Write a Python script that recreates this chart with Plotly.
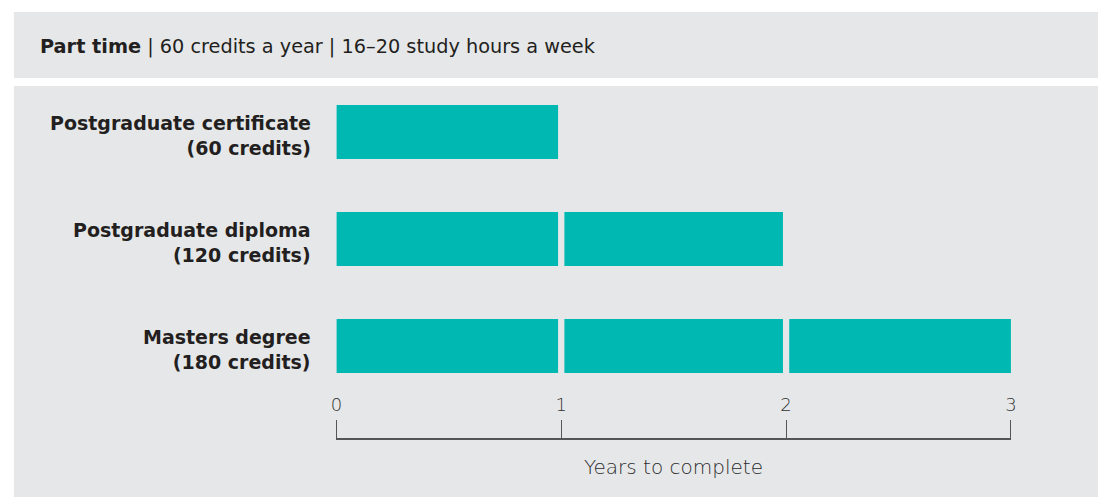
import plotly.graph_objects as go

# Data
programmes = ["Postgraduate certificate<br>(60 credits)",
              "Postgraduate diploma<br>(120 credits)",
              "Masters degree<br>(180 credits)"]
years_to_complete = [1, 2, 3]
x_ticks = [0, 1, 2, 3]
header_bold = "Part time"
header_rest = " | 60 credits a year | 16–20 study hours a week"
x_title = "Years to complete"

W, H = 1104, 497
TEAL = "#00B8B2"
GRAY = "#E6E7E9"
TEXT = "#231F20"
FONT = "DejaVu Sans, sans-serif"

max_years = max(years_to_complete)
gap = 0.014

fig = go.Figure()
for k in range(max_years):
    ys, bases, widths = [], [], []
    for p, n in zip(programmes, years_to_complete):
        if k < n:
            start = k + (gap if k > 0 else 0)
            end = k + 1 - (gap if k + 1 < max_years else 0)
            ys.append(p)
            bases.append(start)
            widths.append(end - start)
    fig.add_trace(go.Bar(y=ys, x=widths, base=bases, orientation="h",
                         marker=dict(color=TEAL, line=dict(width=0)),
                         width=0.505, showlegend=False, hoverinfo="skip"))

def py(px):
    return (H - px) / H

label_annotations = [
    dict(text=f"<b>{p}</b>", xref="paper", yref="y", x=310 / W, y=p,
         xanchor="right", yanchor="middle", align="right", showarrow=False,
         yshift=-3, font=dict(size=19, color=TEXT))
    for p in programmes
]

fig.update_layout(
    autosize=True,
    margin=dict(l=0, r=0, t=0, b=0),
    paper_bgcolor="white", plot_bgcolor="rgba(0,0,0,0)",
    barmode="overlay",
    font=dict(family=FONT, color=TEXT),
    xaxis=dict(domain=[334 / W, 1016 / W], range=[0, 3], side="top",
               anchor="free", position=py(439),
               tickvals=x_ticks, ticktext=[str(t) for t in x_ticks],
               ticks="outside", ticklen=18, tickwidth=1.3, tickcolor="#555",
               showline=True, linecolor="#555", linewidth=2,
               showgrid=False, zeroline=False, ticklabelstandoff=2,
               tickfont=dict(size=18, color="#333", weight=300)),
    yaxis=dict(domain=[py(399.5), py(78.5)], range=[2.5, -0.5],
               categoryorder="array", categoryarray=programmes,
               showgrid=False, zeroline=False, showline=False, ticks="",
               showticklabels=False),
    shapes=[
        dict(type="rect", xref="paper", yref="paper", x0=8 / W, x1=1, y0=py(78), y1=py(12),
             fillcolor=GRAY, line=dict(width=0), layer="below"),
        dict(type="rect", xref="paper", yref="paper", x0=8 / W, x1=1, y0=0, y1=py(86),
             fillcolor=GRAY, line=dict(width=0), layer="below"),
    ],
    annotations=[
        dict(text=f"<b>{header_bold}</b>{header_rest}", xref="paper", yref="paper",
             x=32 / W, y=py(47), xanchor="left", yanchor="middle", showarrow=False,
             font=dict(size=19.3, color=TEXT)),
        dict(text=x_title, xref="x", yref="paper", x=1.5, y=py(467),
             xanchor="center", yanchor="middle", showarrow=False,
             font=dict(size=20, color="#2b2b2b", weight=300)),
    ] + label_annotations,
)

post = """
document.documentElement.style.margin='0';
document.documentElement.style.padding='0';
document.documentElement.style.overflow='hidden';
document.body.style.margin='0';
document.body.style.padding='0';
document.body.style.overflow='hidden';
var gd=document.getElementById('{plot_id}');
if(gd){gd.style.width='100vw';gd.style.height='100vh';Plotly.Plots.resize(gd);}
"""
fig.write_html("out.html", config={"displayModeBar": False, "responsive": True},
               default_width="100vw", default_height="100vh", post_script=post)
